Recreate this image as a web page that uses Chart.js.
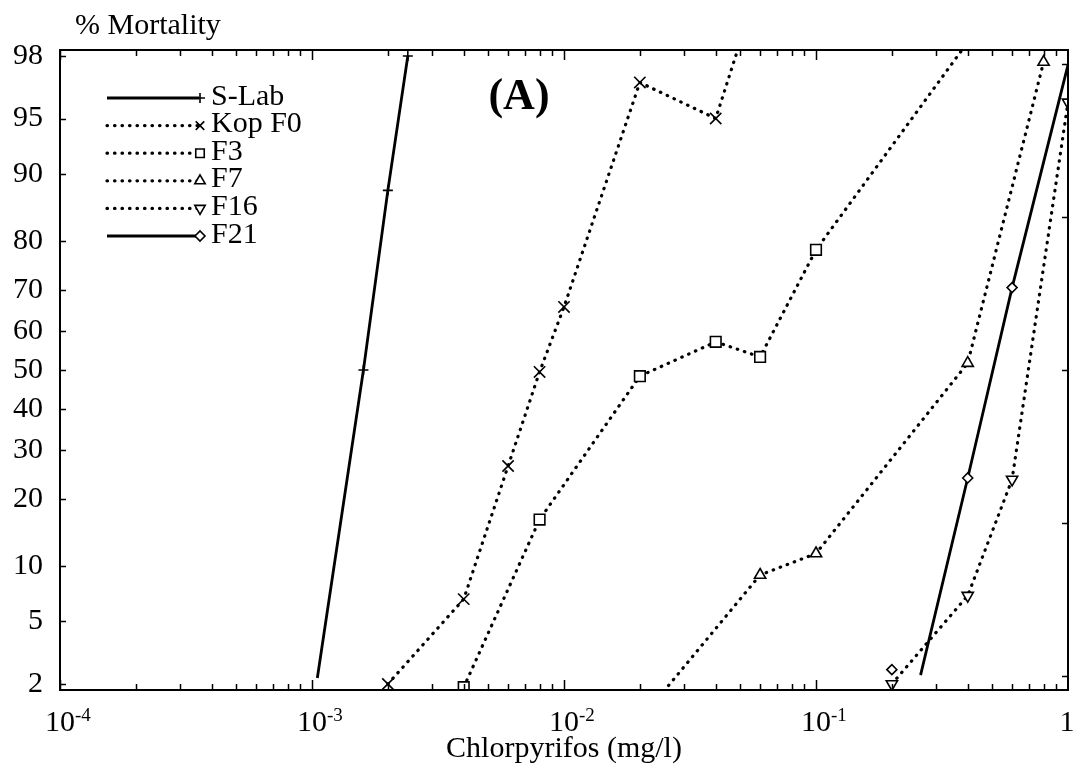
<!DOCTYPE html>
<html>
<head>
<meta charset="utf-8">
<script src="https://cdn.jsdelivr.net/npm/chart.js@4.4.0/dist/chart.umd.min.js"></script>
<style>
  html, body { margin: 0; padding: 0; background: #fff; }
  #wrap { width: 1074px; height: 781px; }
</style>
</head>
<body>
<div id="wrap"><canvas id="myChart" width="1074" height="781"></canvas></div>
<script>
// dose (mg/l) and % mortality
const sLabDose = [0.00105, 0.0016, 0.002, 0.0024];
const sLabMort = [2.2, 50, 88, 98];

const kopF0Dose = [0.002, 0.004, 0.006, 0.008, 0.01, 0.02, 0.04, 0.05];
const kopF0Mort = [2, 6.7, 26.5, 49.5, 66, 97, 95, 98.4];

const f3Dose = [0.004, 0.008, 0.02, 0.04, 0.06, 0.1, 0.4];
const f3Mort = [1.9, 16.4, 48.4, 57.3, 53.4, 78.4, 98.4];

const f7Dose = [0.02, 0.06, 0.1, 0.4, 0.8];
const f7Mort = [1.1, 9, 11.5, 51.8, 97.8];

const f16Dose = [0.2, 0.4, 0.6, 1];
const f16Mort = [2, 7, 23.7, 96];

const f21Dose = [0.2, 0.26, 0.4, 0.6, 1];
const f21Mort = [2.5, 2.3, 24, 70.5, 97.7];

const xTickExps = [-4, -3, -2, -1, 0];
const yTickPercents = [2, 5, 10, 20, 30, 40, 50, 60, 70, 80, 90, 95, 98];
const rightTickProbits = [-2, -1, 0, 1, 2];

const serif = "'Liberation Serif', 'Times New Roman', serif";
Chart.defaults.font.family = serif;
Chart.defaults.color = '#000';

// inverse normal cdf (Acklam), used for the probit mortality axis
function probit(p) {
  const a = [-3.969683028665376e+01, 2.209460984245205e+02, -2.759285104469687e+02, 1.383577518672690e+02, -3.066479806614716e+01, 2.506628277459239e+00];
  const b = [-5.447609879822406e+01, 1.615858368580409e+02, -1.556989798598866e+02, 6.680131188771972e+01, -1.328068155288572e+01];
  const c = [-7.784894002430293e-03, -3.223964580411365e-01, -2.400758277161838e+00, -2.549671411944880e+00, 4.374664141464968e+00, 2.938163982698783e+00];
  const d = [7.784695709041462e-03, 3.224671290700398e-01, 2.445134137142996e+00, 3.754408661907416e+00];
  const pl = 0.02425;
  let q, r;
  if (p < pl) {
    q = Math.sqrt(-2 * Math.log(p));
    return (((((c[0]*q+c[1])*q+c[2])*q+c[3])*q+c[4])*q+c[5]) / ((((d[0]*q+d[1])*q+d[2])*q+d[3])*q+1);
  }
  if (p > 1 - pl) {
    q = Math.sqrt(-2 * Math.log(1 - p));
    return -(((((c[0]*q+c[1])*q+c[2])*q+c[3])*q+c[4])*q+c[5]) / ((((d[0]*q+d[1])*q+d[2])*q+d[3])*q+1);
  }
  q = p - 0.5; r = q * q;
  return (((((a[0]*r+a[1])*r+a[2])*r+a[3])*r+a[4])*r+a[5])*q / (((((b[0]*r+b[1])*r+b[2])*r+b[3])*r+b[4])*r+1);
}

function toPoints(doses, morts) {
  return doses.map((dose, i) => ({ x: dose, y: probit(morts[i] / 100) }));
}

const dotted = [0.5, 7];

function series(label, points, opts) {
  return Object.assign({
    label: label,
    data: points,
    showLine: true,
    borderColor: '#000',
    borderWidth: 3.2,
    borderDash: dotted,
    borderCapStyle: 'round',
    pointBorderColor: '#000',
    pointBackgroundColor: '#fff',
    pointBorderWidth: 1.6,
    tension: 0,
    fill: false
  }, opts);
}

const datasets = [
  series('S-Lab', toPoints(sLabDose, sLabMort), { borderDash: [], borderWidth: 2.8, borderCapStyle: 'butt', pointStyle: 'cross', pointRadius: [0, 5, 5, 5] }),
  series('Kop F0', toPoints(kopF0Dose, kopF0Mort), { pointStyle: 'crossRot', pointRadius: 8 }),
  series('F3', toPoints(f3Dose, f3Mort), { pointStyle: 'rect', pointRadius: 7.5 }),
  series('F7', toPoints(f7Dose, f7Mort), { pointStyle: 'triangle', pointRadius: 6.5 }),
  series('F16', toPoints(f16Dose, f16Mort), { pointStyle: 'triangle', pointRotation: 180, pointRadius: 6.5 }),
  series('F21', toPoints(f21Dose, f21Mort), {
    borderDash: [], borderWidth: 2.8, borderCapStyle: 'butt', pointStyle: 'rectRot', pointRadius: [5, 0, 5, 5, 0],
    segment: { borderColor: ctx => ctx.p0DataIndex === 0 ? 'rgba(0,0,0,0)' : undefined }
  })
];

const axisDecor = {
  id: 'axisDecor',
  afterDraw(chart) {
    const { ctx, chartArea: a, scales: { x, y } } = chart;
    ctx.save();

    // frame
    ctx.strokeStyle = '#000';
    ctx.lineWidth = 2;
    ctx.strokeRect(a.left, a.top, a.right - a.left, a.bottom - a.top);

    // inward ticks
    ctx.lineWidth = 1.5;
    ctx.beginPath();
    for (let e = -4; e < 0; e++) {
      for (let m = 1; m <= 9; m++) {
        const px = Math.round(x.getPixelForValue(m * Math.pow(10, e))) + 0.5;
        const len = m === 1 ? 10 : 6;
        ctx.moveTo(px, a.bottom); ctx.lineTo(px, a.bottom - len);
        ctx.moveTo(px, a.top); ctx.lineTo(px, a.top + len);
      }
    }
    yTickPercents.forEach(p => {
      const py = Math.round(y.getPixelForValue(probit(p / 100))) + 0.5;
      ctx.moveTo(a.left, py); ctx.lineTo(a.left + 6, py);
    });
    rightTickProbits.forEach(z => {
      const py = Math.round(y.getPixelForValue(z)) + 0.5;
      ctx.moveTo(a.right, py); ctx.lineTo(a.right - 6, py);
    });
    ctx.stroke();

    // x tick labels with superscript exponents
    ctx.fillStyle = '#000';
    ctx.textBaseline = 'alphabetic';
    xTickExps.forEach(e => {
      const px = x.getPixelForValue(Math.pow(10, e));
      ctx.font = '30px ' + serif;
      ctx.textAlign = 'center';
      if (e === 0) {
        ctx.fillText('1', px - 1, a.bottom + 41);
        return;
      }
      ctx.fillText('10', px, a.bottom + 41);
      const w = ctx.measureText('10').width;
      ctx.font = '19px ' + serif;
      ctx.textAlign = 'left';
      ctx.fillText('-' + Math.abs(e), px + w / 2, a.bottom + 31);
    });

    // axis caption and panel letter
    ctx.font = '30px ' + serif;
    ctx.textAlign = 'left';
    ctx.fillText('% Mortality', 75, 34);
    ctx.font = 'bold 44px ' + serif;
    ctx.textAlign = 'center';
    ctx.fillText('(A)', 519, 109);

    // legend: line sample with marker at its right end
    chart.data.datasets.forEach((ds, i) => {
      const rowY = 98 + i * 27.6;
      ctx.save();
      ctx.strokeStyle = '#000';
      ctx.lineWidth = ds.borderWidth;
      ctx.lineCap = ds.borderCapStyle;
      ctx.setLineDash(ds.borderDash);
      ctx.beginPath();
      ctx.moveTo(107, rowY);
      ctx.lineTo(199, rowY);
      ctx.stroke();
      ctx.restore();

      ctx.save();
      ctx.strokeStyle = '#000';
      ctx.fillStyle = '#fff';
      ctx.lineWidth = 1.6;
      const r = Array.isArray(ds.pointRadius) ? Math.max(...ds.pointRadius) : ds.pointRadius;
      Chart.helpers.drawPoint(ctx, {
        pointStyle: ds.pointStyle,
        radius: Math.min(r, 6),
        rotation: ds.pointRotation || 0,
        borderWidth: 1.6
      }, 200, rowY);
      ctx.restore();

      ctx.font = '30px ' + serif;
      ctx.textAlign = 'left';
      ctx.textBaseline = 'alphabetic';
      ctx.fillStyle = '#000';
      ctx.fillText(ds.label, 211, rowY + 6.5);
    });

    ctx.restore();
  }
};

new Chart(document.getElementById('myChart'), {
  type: 'line',
  data: { datasets },
  options: {
    responsive: false,
    animation: false,
    events: [],
    layout: { autoPadding: false, padding: { top: 50, right: 6, left: 0, bottom: 0 } },
    plugins: { legend: { display: false }, tooltip: { enabled: false } },
    scales: {
      x: {
        type: 'logarithmic',
        min: 1e-4,
        max: 1,
        afterBuildTicks: s => { s.ticks = xTickExps.map(e => ({ value: Math.pow(10, e) })); },
        afterFit: s => { s.height = 91; },
        ticks: { display: false },
        grid: { display: false, drawTicks: false },
        border: { display: false },
        title: {
          display: true,
          text: 'Chlorpyrifos (mg/l)',
          font: { size: 30, family: serif },
          color: '#000',
          padding: { top: 0, bottom: 14 }
        }
      },
      y: {
        type: 'linear',
        min: -2.093,
        max: 2.093,
        afterBuildTicks: s => { s.ticks = yTickPercents.map(p => ({ value: probit(p / 100) })); },
        afterFit: s => { s.width = 60; },
        ticks: {
          autoSkip: false,
          padding: 17,
          font: { size: 30, family: serif },
          color: '#000',
          callback: (v, i) => String(yTickPercents[i])
        },
        grid: { display: false, drawTicks: false },
        border: { display: false }
      }
    }
  },
  plugins: [axisDecor]
});
</script>
</body>
</html>
